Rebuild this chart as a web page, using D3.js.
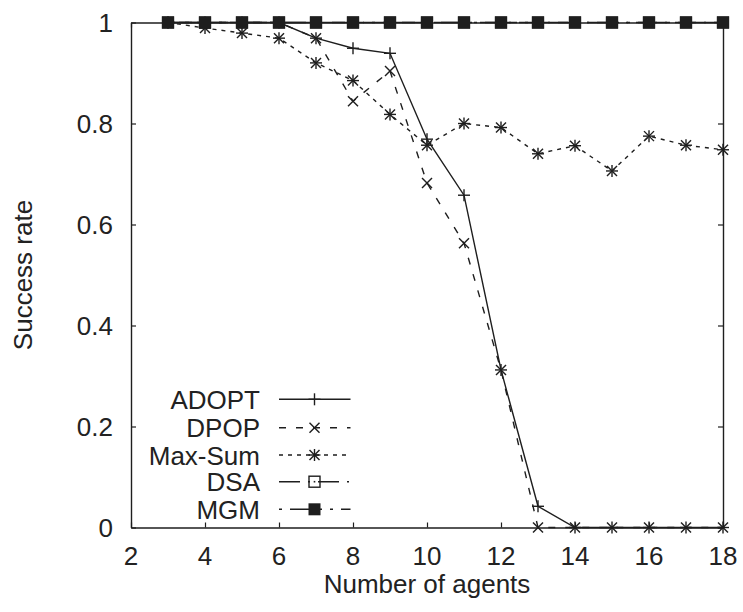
<!DOCTYPE html>
<html>
<head>
<meta charset="utf-8">
<script src="https://cdn.jsdelivr.net/npm/d3@7"></script>
<style>
  html, body { margin: 0; padding: 0; background: #fff; }
  svg { display: block; }
  text { font-family: "Liberation Sans", Arial, Helvetica, sans-serif; fill: #222; }
</style>
</head>
<body>
<svg id="chart" width="743" height="612"></svg>
<script>
// ---- data ----
const agents = [3, 4, 5, 6, 7, 8, 9, 10, 11, 12, 13, 14, 15, 16, 17, 18];
const adopt  = [1, 1, 1, 1, 0.969, 0.949, 0.939, 0.769, 0.658, 0.312, 0.042, 0, 0, 0, 0, 0];
const dpop   = [1, 1, 1, 1, 0.969, 0.844, 0.904, 0.682, 0.563, 0.312, 0, 0, 0, 0, 0, 0];
const maxSum = [1, 0.989, 0.979, 0.969, 0.92, 0.885, 0.818, 0.757, 0.80, 0.792, 0.740, 0.756, 0.706, 0.775, 0.757, 0.748];
const dsa    = [1, 1, 1, 1, 1, 1, 1, 1, 1, 1, 1, 1, 1, 1, 1, 1];
const mgm    = [1, 1, 1, 1, 1, 1, 1, 1, 1, 1, 1, 1, 1, 1, 1, 1];
const seriesNames = ["ADOPT", "DPOP", "Max-Sum", "DSA", "MGM"];
const xTicks = [2, 4, 6, 8, 10, 12, 14, 16, 18];
const yTicks = [0, 0.2, 0.4, 0.6, 0.8, 1];
const xTitle = "Number of agents";
const yTitle = "Success rate";

// ---- layout ----
const svg = d3.select("#chart");
const L = 131, R = 723, T = 22.5, B = 527.5;
const x = d3.scaleLinear().domain([2, 18]).range([L, R]);
const y = d3.scaleLinear().domain([0, 1]).range([B, T]);
const ink = "#1e1e1e";
const fontSize = 26;

const styles = [
  { values: adopt,  dash: null,          marker: "plus" },
  { values: dpop,   dash: "7,10",        marker: "cross" },
  { values: maxSum, dash: "4,5",         marker: "star" },
  { values: dsa,    dash: "21,8,2,8",    marker: "box" },
  { values: mgm,    dash: "3,8,32,8",    marker: "boxf" }
];

// axes (gnuplot-like border with inward mirrored ticks)
const g = svg.append("g");
const tickLen = 5;
const axB = d3.axisBottom(x).tickValues(xTicks).tickSizeInner(-tickLen).tickSizeOuter(0).tickFormat("");
const axT = d3.axisTop(x).tickValues(xTicks).tickSizeInner(-tickLen).tickSizeOuter(0).tickFormat("");
const axL = d3.axisLeft(y).tickValues(yTicks).tickSizeInner(-tickLen).tickSizeOuter(0).tickFormat("");
const axR = d3.axisRight(y).tickValues(yTicks).tickSizeInner(-tickLen).tickSizeOuter(0).tickFormat("");
[[axB, `translate(0,${B})`], [axT, `translate(0,${T})`], [axL, `translate(${L},0)`], [axR, `translate(${R},0)`]].forEach(([a, t]) => {
  const ag = g.append("g").attr("transform", t).call(a);
  ag.selectAll("path.domain").attr("stroke", ink).attr("stroke-width", 1.4);
  ag.selectAll(".tick line").attr("stroke", ink).attr("stroke-width", 1.2);
});

// tick labels
g.selectAll("text.xl").data(xTicks).enter().append("text")
  .attr("class", "xl")
  .attr("x", d => x(d)).attr("y", 565)
  .attr("text-anchor", "middle").attr("font-size", fontSize)
  .text(d => d);
g.selectAll("text.yl").data(yTicks).enter().append("text")
  .attr("class", "yl")
  .attr("x", 113).attr("y", d => y(d) + 9.5)
  .attr("text-anchor", "end").attr("font-size", fontSize)
  .text(d => d3.format("~g")(d));

// titles
svg.append("text").attr("x", (L + R) / 2).attr("y", 593)
  .attr("text-anchor", "middle").attr("font-size", fontSize).text(xTitle);
svg.append("text").attr("transform", `translate(32,${(T + B) / 2}) rotate(-90)`)
  .attr("text-anchor", "middle").attr("font-size", fontSize).text(yTitle);

// marker drawing
function drawMarker(sel, type, cx, cy) {
  const s = 6, c = 5;
  const mk = sel.append("g").attr("transform", `translate(${cx},${cy})`)
    .attr("stroke", ink).attr("stroke-width", 1.4).attr("fill", "none");
  if (type === "plus" || type === "star") {
    mk.append("line").attr("x1", -s).attr("x2", s).attr("y1", 0).attr("y2", 0);
    mk.append("line").attr("x1", 0).attr("x2", 0).attr("y1", -s).attr("y2", s);
  }
  if (type === "cross" || type === "star") {
    mk.append("line").attr("x1", -c).attr("x2", c).attr("y1", -c).attr("y2", c);
    mk.append("line").attr("x1", -c).attr("x2", c).attr("y1", c).attr("y2", -c);
  }
  if (type === "box") {
    mk.append("rect").attr("x", -5.5).attr("y", -5.5).attr("width", 11).attr("height", 11);
    mk.append("rect").attr("x", -0.8).attr("y", -0.8).attr("width", 1.6).attr("height", 1.6)
      .attr("fill", ink).attr("stroke", "none");
  }
  if (type === "boxf") {
    mk.append("rect").attr("x", -6).attr("y", -6).attr("width", 12).attr("height", 12)
      .attr("fill", ink).attr("stroke", "none");
  }
}

// series
const line = d3.line().x(d => x(d[0])).y(d => y(d[1]));
const plot = svg.append("g");
styles.forEach(st => {
  const pts = agents.map((a, i) => [a, st.values[i]]);
  plot.append("path").datum(pts).attr("d", line)
    .attr("fill", "none").attr("stroke", ink).attr("stroke-width", 1.4)
    .attr("stroke-dasharray", st.dash);
  pts.forEach(p => drawMarker(plot, st.marker, x(p[0]), y(p[1])));
});

// legend
const legRows = [399.3, 427.7, 455, 481.7, 509.3];
const leg = svg.append("g");
seriesNames.forEach((name, i) => {
  const cy = legRows[i];
  leg.append("text").attr("x", 260).attr("y", cy + 9.5)
    .attr("text-anchor", "end").attr("font-size", fontSize).text(name);
  leg.append("line").attr("x1", 279).attr("x2", 350.5).attr("y1", cy).attr("y2", cy)
    .attr("stroke", ink).attr("stroke-width", 1.4).attr("stroke-dasharray", styles[i].dash);
  drawMarker(leg, styles[i].marker, 314.5, cy);
});
</script>
</body>
</html>
